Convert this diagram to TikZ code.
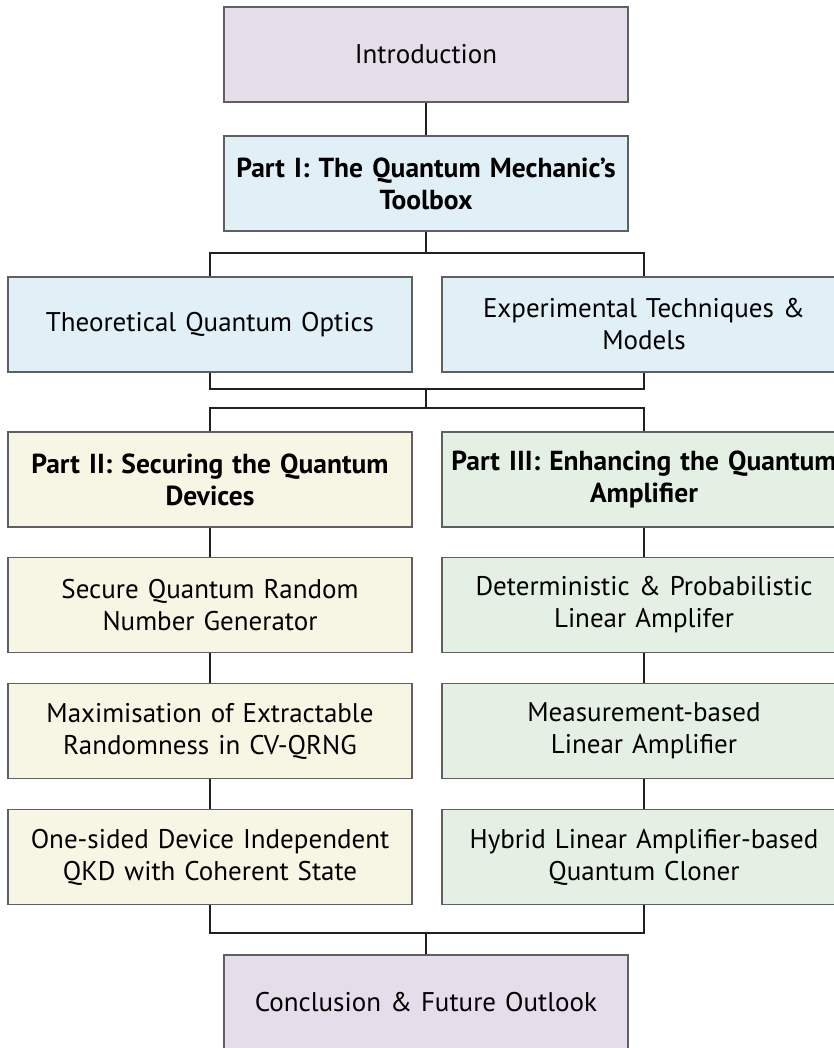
\documentclass[tikz,border=0pt]{standalone}
\usepackage{fontspec}
\setmainfont{PT Sans}[WordSpace=0.72]

\definecolor{introfill}{HTML}{E5DDEA}
\definecolor{toolfill}{HTML}{E1EFF7}
\definecolor{securefill}{HTML}{F7F6E4}
\definecolor{ampfill}{HTML}{E5F0E4}
\definecolor{boxline}{HTML}{5F6062}
\definecolor{linkcol}{HTML}{231F20}

\tikzset{
  box/.style={draw=boxline, line width=1.2pt, minimum width=404pt,
    minimum height=95pt, text width=396pt, align=center, inner sep=0pt,
    font=\fontsize{27}{32}\selectfont},
  partbox/.style={box, font=\fontsize{27.5}{32}\selectfont\bfseries},
  link/.style={draw=linkcol, line width=2pt},
}

\begin{document}
\begin{tikzpicture}[x=1pt, y=-1pt]
  \useasboundingbox (0,0) rectangle (833,1048);

  % chapter boxes
  \node[box, fill=introfill] (intro) at (426,54.5) {Introduction};
  \node[partbox, fill=toolfill] (part1) at (426,183.5)
    {Part I: The Quantum Mechanic’s\\Toolbox};
  \node[box, fill=toolfill] (theory) at (210,324.5) {Theoretical Quantum Optics};
  \node[box, fill=toolfill] (expt) at (644,324.5) {Experimental Techniques \&\\Models};

  % left column: securing
  \node[partbox, fill=securefill] (part2) at (210,479.5)
    {Part II: Securing the Quantum\\Devices};
  \node[box, fill=securefill] (qrng) at (210,605) {Secure Quantum Random\\Number Generator};
  \node[box, fill=securefill] (maxrand) at (210,731) {Maximisation of Extractable\\Randomness in CV-QRNG};
  \node[box, fill=securefill] (qkd) at (210,857) {One-sided Device Independent\\QKD with Coherent State};

  % right column: enhancing
  \node[partbox, fill=ampfill] (part3) at (644,479.5)
    {Part III: Enhancing the Quantum\\Amplifier};
  \node[box, fill=ampfill] (amp) at (644,605) {Deterministic \& Probabilistic\\Linear Amplifer};
  \node[box, fill=ampfill] (meas) at (644,731) {Measurement-based\\Linear Amplifier};
  \node[box, fill=ampfill] (cloner) at (644,857) {Hybrid Linear Amplifier-based\\Quantum Cloner};

  \node[box, fill=introfill] (concl) at (426,1002.5) {Conclusion \& Future Outlook};

  % forks and joins
  \coordinate (fork1) at (426,253);
  \coordinate (join1) at (426,389);
  \coordinate (fork2) at (426,408);
  \coordinate (join2) at (426,933);

  \draw[link] (intro) -- (part1);
  \draw[link] (part1) -- (fork1);
  \draw[link] (theory.north) |- (fork1) -| (expt.north);
  \draw[link] (theory.south) |- (join1) -| (expt.south);
  \draw[link] (join1) -- (fork2);
  \draw[link] (part2.north) |- (fork2) -| (part3.north);
  \draw[link] (part2) -- (qrng) -- (maxrand) -- (qkd);
  \draw[link] (part3) -- (amp) -- (meas) -- (cloner);
  \draw[link] (qkd.south) |- (join2) -| (cloner.south);
  \draw[link] (join2) -- (concl);
\end{tikzpicture}
\end{document}
